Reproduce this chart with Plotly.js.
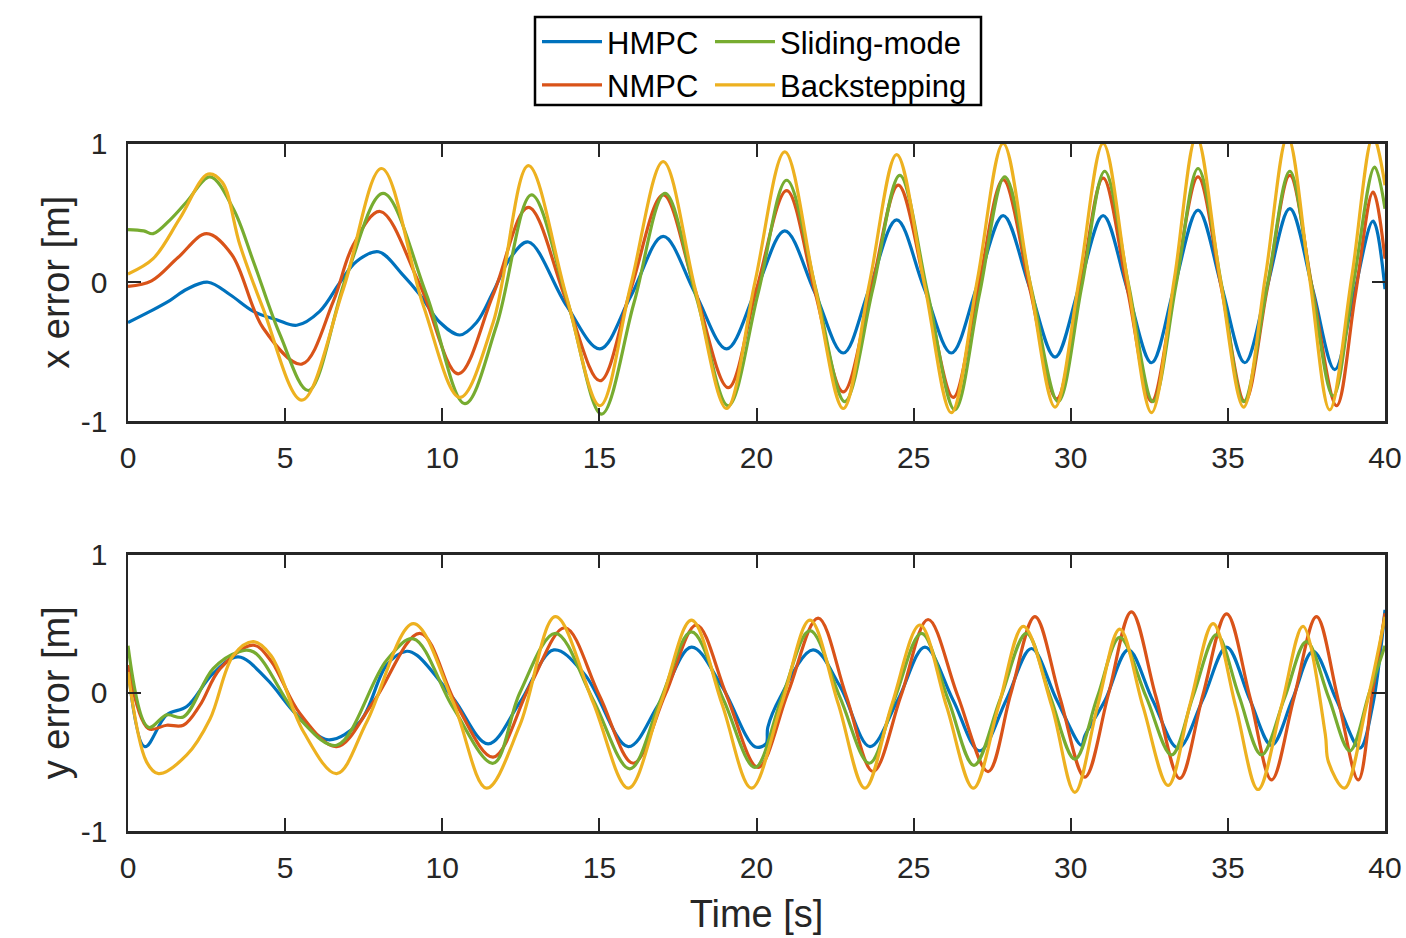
<!DOCTYPE html>
<html>
<head>
<meta charset="utf-8">
<script src="https://cdn.plot.ly/plotly-3.0.1.min.js"></script>
<style>html,body{margin:0;padding:0;background:#fff}#chart{width:1406px;height:938px}</style>
</head>
<body>
<div id="chart"></div>
<script>
// ---------- x error (top) ----------
const xHmpcT = [0,0.7,1.34,1.87,2.55,3.25,3.99,4.73,5.37,6.1,6.75,7.27,7.97,8.76,9.29,9.93,10.56,11.09,11.62,12.15,12.74,13.96,15.02,16.0,17.03,18.05,19.05,19.98,20.9,21.85,22.76,23.6,24.46,25.33,26.2,27.03,27.85,28.68,29.5,30.27,31.03,31.8,32.57,33.3,34.05,34.8,35.54,36.25,36.97,37.7,38.4,39.0,39.62,40];
const xHmpcV = [-0.29,-0.21,-0.13,-0.05,0.0,-0.09,-0.21,-0.27,-0.31,-0.21,0.0,0.15,0.22,0.05,-0.09,-0.29,-0.38,-0.29,-0.07,0.17,0.29,-0.17,-0.48,-0.1,0.33,-0.08,-0.48,-0.06,0.37,-0.07,-0.51,-0.04,0.45,-0.04,-0.51,-0.02,0.48,-0.03,-0.54,-0.03,0.48,-0.05,-0.58,-0.03,0.52,-0.03,-0.58,-0.03,0.53,-0.05,-0.63,-0.1,0.44,-0.05];

const xNmpcT = [0,0.75,1.6,2.5,3.3,4.3,5.53,6.53,7.17,8.02,9.29,10.51,11.62,12.74,13.96,15.02,16.0,17.03,18.05,19.1,20.0,20.96,21.85,22.76,23.65,24.51,25.4,26.26,27.05,27.85,28.7,29.55,30.3,31.03,31.8,32.57,33.3,34.05,34.8,35.54,36.25,36.97,37.7,38.46,39.05,39.62,40];
const xNmpcV = [-0.03,0.01,0.18,0.35,0.2,-0.33,-0.59,-0.14,0.27,0.51,-0.02,-0.66,-0.09,0.54,-0.14,-0.71,-0.05,0.63,-0.06,-0.76,-0.05,0.66,-0.06,-0.79,-0.05,0.70,-0.06,-0.83,-0.05,0.74,-0.05,-0.84,-0.05,0.75,-0.05,-0.86,-0.05,0.76,-0.05,-0.86,-0.05,0.77,-0.06,-0.89,-0.1,0.65,0.17];

const xSmcT = [0,0.5,0.8,1.34,1.87,2.61,3.35,3.99,4.84,5.74,6.96,8.12,9.5,10.72,11.73,12.84,14.0,15.07,16.1,17.09,18.1,19.1,20.05,20.96,21.9,22.81,23.7,24.56,25.45,26.31,27.1,27.9,28.75,29.6,30.35,31.08,31.85,32.62,33.35,34.05,34.8,35.5,36.25,36.97,37.65,38.35,39.0,39.67,40];
const xSmcV = [0.38,0.37,0.35,0.45,0.58,0.76,0.53,0.15,-0.38,-0.78,0.05,0.64,-0.09,-0.875,-0.31,0.63,-0.15,-0.95,-0.15,0.64,-0.12,-0.89,-0.08,0.735,-0.06,-0.86,-0.05,0.77,-0.08,-0.92,-0.08,0.76,-0.05,-0.86,-0.03,0.80,-0.03,-0.86,-0.02,0.82,-0.02,-0.86,-0.03,0.80,-0.01,-0.82,0.0,0.83,0.53];

const xBsT = [0,0.8,1.65,2.55,3.0,3.56,4.3,5.53,6.85,8.07,9.4,10.56,11.62,12.74,13.95,15.02,16.0,17.03,18.05,19.05,19.95,20.9,21.85,22.76,23.6,24.46,25.35,26.2,27.03,27.85,28.68,29.5,30.27,31.03,31.8,32.57,33.3,34.0,34.75,35.5,36.2,36.9,37.6,38.24,38.95,39.62,40];
const xBsV = [0.06,0.17,0.46,0.78,0.72,0.27,-0.19,-0.85,-0.05,0.82,-0.17,-0.83,-0.29,0.84,-0.1,-0.89,-0.02,0.87,-0.05,-0.91,0.0,0.94,-0.02,-0.91,0.0,0.92,-0.02,-0.94,0.02,1.0,0.02,-0.90,0.02,1.0,0.02,-0.94,0.03,1.05,0.03,-0.90,0.05,1.05,0.03,-0.92,0.05,1.05,0.70];

// ---------- y error (bottom) ----------
const yHmpcT = [0,0.54,1.23,1.87,2.71,3.51,4.41,5.37,6.37,7.38,8.23,8.87,9.2,10.35,11.46,12.47,13.55,14.54,15.92,16.87,17.93,18.89,19.95,20.3,20.36,20.74,21.8,22.65,23.61,24.5,25.36,26.25,27.1,27.95,28.75,29.55,30.34,30.45,31.1,31.83,32.6,33.42,34.2,34.96,35.7,36.39,37.05,37.71,38.45,39.2,39.6,40];
const yHmpcV = [0.18,-0.39,-0.16,-0.10,0.14,0.26,0.10,-0.16,-0.34,-0.21,0.20,0.30,0.27,-0.04,-0.37,-0.07,0.31,0.13,-0.39,-0.09,0.33,0.05,-0.39,-0.37,-0.25,-0.04,0.31,0.05,-0.39,-0.05,0.33,-0.05,-0.42,-0.05,0.32,-0.05,-0.38,-0.31,-0.05,0.31,-0.05,-0.40,-0.05,0.33,-0.05,-0.38,-0.05,0.30,-0.05,-0.40,-0.1,0.60];

const yNmpcT = [0,0.65,1.23,1.76,2.29,2.93,3.99,4.55,5.47,6.64,7.8,9.29,10.46,11.62,12.79,13.9,15.0,16.08,17.1,18.09,19.05,20.05,21.0,21.96,22.85,23.71,24.6,25.46,26.4,27.37,28.1,28.86,29.65,30.45,31.2,31.93,32.7,33.47,34.2,34.96,35.7,36.39,37.1,37.82,38.5,39.15,39.6,40];
const yNmpcV = [0.2,-0.26,-0.235,-0.235,-0.09,0.175,0.344,0.23,-0.15,-0.39,-0.07,0.43,-0.09,-0.465,0.05,0.47,-0.02,-0.51,-0.01,0.49,-0.02,-0.54,0.0,0.54,-0.02,-0.57,-0.02,0.53,-0.02,-0.57,0.0,0.55,-0.03,-0.61,-0.01,0.585,-0.02,-0.62,-0.02,0.57,-0.03,-0.63,-0.04,0.55,-0.04,-0.63,0.0,0.575];

const ySmcT = [0,0.65,1.23,1.76,2.71,3.51,4.0,5.47,6.64,8.23,9.08,10.35,11.62,12.47,13.6,14.8,15.97,16.95,17.93,18.95,19.95,20.8,21.7,22.65,23.59,24.4,25.25,26.1,26.92,27.75,28.59,29.35,30.13,30.85,31.56,32.4,33.21,33.9,34.64,35.35,36.07,36.8,37.5,38.2,38.88,39.5,40];
const ySmcV = [0.34,-0.25,-0.16,-0.175,0.175,0.295,0.295,-0.19,-0.38,0.235,0.39,-0.11,-0.51,0.0,0.43,-0.05,-0.55,-0.05,0.44,-0.05,-0.54,-0.04,0.45,-0.03,-0.51,-0.04,0.43,-0.05,-0.525,-0.05,0.43,-0.03,-0.48,-0.03,0.40,-0.03,-0.45,-0.02,0.42,-0.02,-0.45,-0.04,0.37,-0.03,-0.42,0.0,0.34];

const yBsT = [0,0.59,0.97,1.87,2.61,3.35,3.99,4.55,5.58,6.64,7.6,9.08,10.35,11.41,12.47,13.6,14.8,15.92,16.95,17.93,18.9,19.84,20.8,21.7,22.6,23.45,24.3,25.2,26.05,26.9,27.7,28.49,29.4,30.13,30.85,31.56,32.3,33.1,33.8,34.53,35.25,35.96,36.7,37.39,38.1,38.2,38.71,39.4,40];
const yBsV = [0.15,-0.5,-0.585,-0.45,-0.19,0.27,0.37,0.27,-0.28,-0.585,-0.21,0.50,-0.07,-0.69,-0.235,0.55,-0.07,-0.69,-0.08,0.525,-0.08,-0.69,-0.08,0.525,-0.08,-0.69,-0.09,0.49,-0.1,-0.69,-0.1,0.48,-0.1,-0.72,-0.1,0.46,-0.1,-0.67,-0.08,0.50,-0.1,-0.70,-0.1,0.48,-0.3,-0.5,-0.69,-0.1,0.55];

const seriesNames = ['HMPC','NMPC','Sliding-mode','Backstepping'];
const seriesColors = ['#0072BD','#D95319','#77AC30','#EDB120'];
const xTick = [0,5,10,15,20,25,30,35,40];
const yTick = [-1,0,1];

const FONT = 'Liberation Sans, Arial, Helvetica, sans-serif';
const INK = '#262626';

function mk(t, v, i, xa, ya, show) {
  return {
    x: t, y: v, xaxis: xa, yaxis: ya, type: 'scatter', mode: 'lines',
    name: seriesNames[i], showlegend: show,
    legend: (i === 0 || i === 1) ? 'legend' : 'legend2',
    line: {color: seriesColors[i], width: 3.2, shape: 'spline', smoothing: 1},
    hoverinfo: 'skip'
  };
}

const data = [
  mk(xHmpcT, xHmpcV, 0, 'x', 'y', true),
  mk(xNmpcT, xNmpcV, 1, 'x', 'y', true),
  mk(xSmcT, xSmcV, 2, 'x', 'y', true),
  mk(xBsT, xBsV, 3, 'x', 'y', true),
  mk(yHmpcT, yHmpcV, 0, 'x2', 'y2', false),
  mk(yNmpcT, yNmpcV, 1, 'x2', 'y2', false),
  mk(ySmcT, ySmcV, 2, 'x2', 'y2', false),
  mk(yBsT, yBsV, 3, 'x2', 'y2', false)
];

const W = 1406, H = 938;
const xDom = [128/W, 1385/W];
function axX(anchor) {
  return {
    domain: xDom, anchor: anchor, range: [0, 40], tickvals: xTick, ticktext: xTick.map(String),
    ticks: 'inside', ticklen: 13, tickwidth: 2, tickcolor: INK,
    showline: true, linecolor: INK, linewidth: 2.5, mirror: 'ticks',
    showgrid: false, zeroline: false, fixedrange: true,
    tickfont: {family: FONT, size: 30, color: INK}, ticklabelstandoff: 8
  };
}
function axY(dom, anchor, title) {
  return {
    domain: dom, anchor: anchor, range: [-1, 1], tickvals: yTick, ticktext: yTick.map(String),
    ticks: 'inside', ticklen: 13, tickwidth: 2, tickcolor: INK,
    showline: true, linecolor: INK, linewidth: 2.5, mirror: 'ticks',
    showgrid: false, zeroline: false, fixedrange: true,
    tickfont: {family: FONT, size: 30, color: INK}, ticklabelstandoff: 12,
    title: {text: title, font: {family: FONT, size: 38, color: INK}, standoff: 0}
  };
}

const layout = {
  width: W, height: H,
  margin: {l: 0, r: 0, t: 0, b: 0},
  paper_bgcolor: '#fff', plot_bgcolor: '#fff',
  xaxis: axX('y'),
  yaxis: axY([1 - 421/H, 1 - 143.5/H], 'x', 'x error [m]'),
  xaxis2: Object.assign(axX('y2'), {title: {text: 'Time [s]', font: {family: FONT, size: 38, color: INK}, standoff: 18}}),
  yaxis2: axY([1 - 831/H, 1 - 554.5/H], 'x2', 'y error [m]'),
  legend: {
    x: 537/W, y: 1 - 15/H, xanchor: 'left', yanchor: 'top', orientation: 'v',
    bgcolor: 'rgba(0,0,0,0)', borderwidth: 0, itemwidth: 60, tracegroupgap: 0,
    font: {family: FONT, size: 31, color: '#000'}
  },
  legend2: {
    x: 710/W, y: 1 - 15/H, xanchor: 'left', yanchor: 'top', orientation: 'v',
    bgcolor: 'rgba(0,0,0,0)', borderwidth: 0, itemwidth: 60, tracegroupgap: 0,
    font: {family: FONT, size: 31, color: '#000'}
  },
  shapes: [{
    type: 'rect', xref: 'paper', yref: 'paper',
    x0: 535/W, x1: 981/W, y0: 1 - 105/H, y1: 1 - 17/H,
    line: {color: '#000', width: 2.5}, fillcolor: 'rgba(0,0,0,0)'
  }]
};

Plotly.newPlot('chart', data, layout, {staticPlot: true, displayModeBar: false});
</script>
</body>
</html>
